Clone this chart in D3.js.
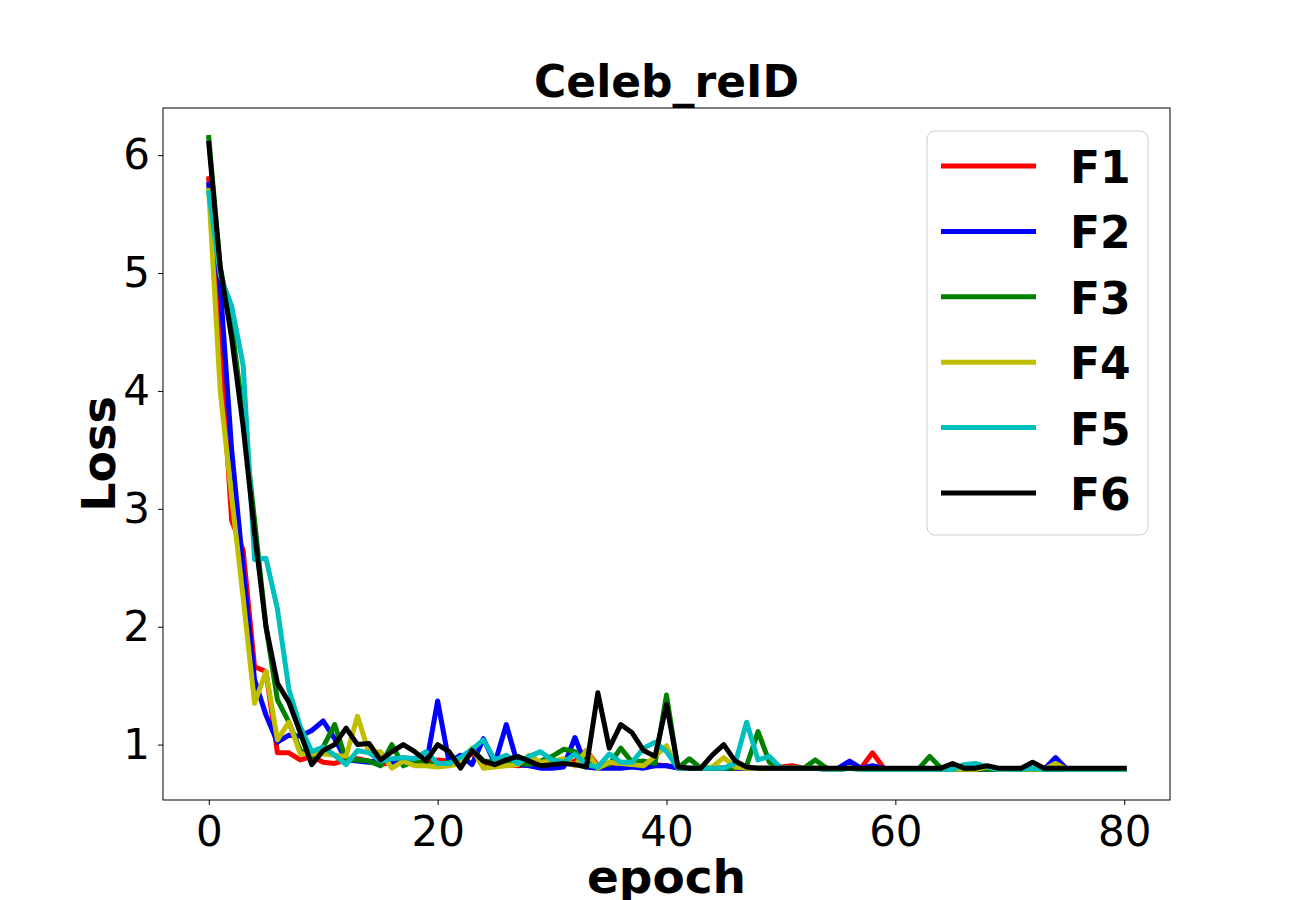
<!DOCTYPE html>
<html>
<head>
<meta charset="utf-8">
<script src="https://cdn.jsdelivr.net/npm/d3@7"></script>
<style>
  body { margin: 0; background: #fff; }
  svg { font-family: "DejaVu Sans", sans-serif; }
</style>
</head>
<body>
<svg id="chart" width="1300" height="900"></svg>
<script>
// loss per epoch (0..80)
var seriesNames = ["F1", "F2", "F3", "F4", "F5", "F6"];
var seriesColors = ["#ff0000", "#0000ff", "#008000", "#bfbf00", "#00bfbf", "#000000"];

var F1 = [5.8, 4.4, 2.9, 2.65, 1.66, 1.62, 0.93, 0.93, 0.87, 0.9,
  0.85, 0.84, 0.87, 0.88, 0.86, 0.83, 0.85, 0.86, 0.85, 0.84,
  0.87, 0.86, 0.83, 0.93, 0.84, 0.82, 0.83, 0.82, 0.83, 0.82,
  0.82, 0.83, 0.86, 0.95, 0.82, 0.83, 0.82, 0.83, 0.82, 0.83,
  0.82, 0.81, 0.8, 0.8, 0.8, 0.8, 0.8, 0.8, 0.8, 0.8,
  0.81, 0.82, 0.8, 0.8, 0.8, 0.79, 0.8, 0.8, 0.93, 0.8,
  0.79, 0.79, 0.79, 0.79, 0.79, 0.79, 0.79, 0.79, 0.79, 0.79,
  0.79, 0.79, 0.79, 0.79, 0.79, 0.79, 0.79, 0.79, 0.79, 0.79, 0.79];

var F2 = [5.75, 4.9, 3.5, 2.5, 1.55, 1.25, 1.02, 1.08, 1.07, 1.12,
  1.2, 1.05, 0.87, 0.86, 0.85, 0.87, 0.85, 0.85, 0.84, 0.83,
  1.37, 0.85, 0.91, 0.83, 1.05, 0.84, 1.17, 0.83, 0.82, 0.8,
  0.8, 0.81, 1.06, 0.81, 0.8, 0.8, 0.8, 0.81, 0.8, 0.82,
  0.82, 0.8, 0.8, 0.8, 0.8, 0.8, 0.8, 0.8, 0.8, 0.8,
  0.8, 0.8, 0.8, 0.8, 0.79, 0.8, 0.86, 0.8, 0.82, 0.8,
  0.79, 0.79, 0.79, 0.79, 0.79, 0.79, 0.79, 0.79, 0.79, 0.79,
  0.79, 0.79, 0.79, 0.79, 0.89, 0.79, 0.79, 0.79, 0.79, 0.79, 0.79];

var F3 = [6.15, 5.05, 4.55, 3.8, 2.9, 2.0, 1.38, 1.19, 0.95, 0.9,
  0.98, 1.17, 0.87, 0.87, 0.86, 0.82, 1.0, 0.82, 0.86, 0.84,
  0.83, 0.85, 0.84, 0.96, 0.86, 0.85, 0.85, 0.84, 0.83, 0.86,
  0.9, 0.96, 0.94, 0.85, 0.82, 0.83, 0.97, 0.85, 0.86, 0.84,
  1.42, 0.8, 0.88, 0.8, 0.8, 0.8, 0.8, 0.82, 1.11, 0.85,
  0.8, 0.8, 0.8, 0.87, 0.8, 0.79, 0.8, 0.79, 0.79, 0.79,
  0.79, 0.79, 0.79, 0.9, 0.8, 0.79, 0.79, 0.79, 0.79, 0.79,
  0.79, 0.79, 0.79, 0.79, 0.79, 0.79, 0.79, 0.79, 0.79, 0.79, 0.79];

var F4 = [5.7, 4.0, 3.1, 2.25, 1.35, 1.62, 1.04, 1.19, 0.92, 0.92,
  0.92, 0.91, 0.9, 1.24, 0.93, 0.94, 0.8, 0.86, 0.82, 0.82,
  0.81, 0.82, 0.84, 0.97, 0.8, 0.81, 0.82, 0.83, 0.91, 0.85,
  0.86, 0.88, 0.82, 0.95, 0.8, 0.85, 0.84, 0.83, 0.82, 0.9,
  0.99, 0.8, 0.8, 0.8, 0.81, 0.89, 0.81, 0.8, 0.8, 0.8,
  0.8, 0.8, 0.8, 0.8, 0.79, 0.79, 0.8, 0.79, 0.79, 0.79,
  0.79, 0.79, 0.79, 0.79, 0.79, 0.79, 0.79, 0.79, 0.81, 0.79,
  0.79, 0.79, 0.79, 0.79, 0.84, 0.79, 0.79, 0.79, 0.79, 0.79, 0.79];

var F5 = [5.68, 4.98, 4.72, 4.22, 2.57, 2.58, 2.15, 1.47, 1.15, 0.94,
  0.98, 0.91, 0.83, 0.95, 0.93, 0.86, 0.88, 0.89, 0.88, 0.94,
  0.84, 0.84, 0.89, 0.96, 1.04, 0.87, 0.91, 0.84, 0.9, 0.94,
  0.87, 0.85, 0.92, 0.83, 0.81, 0.92, 0.85, 0.85, 0.97, 1.02,
  0.94, 0.8, 0.8, 0.8, 0.8, 0.8, 0.84, 1.19, 0.87, 0.9,
  0.8, 0.8, 0.8, 0.8, 0.79, 0.79, 0.8, 0.79, 0.79, 0.79,
  0.79, 0.79, 0.79, 0.79, 0.79, 0.79, 0.83, 0.84, 0.81, 0.79,
  0.79, 0.79, 0.8, 0.79, 0.79, 0.79, 0.79, 0.79, 0.79, 0.79, 0.79];

var F6 = [6.1, 5.05, 4.45, 3.7, 2.8, 2.0, 1.52, 1.36, 1.1, 0.83,
  0.95, 1.0, 1.14, 1.0, 1.01, 0.87, 0.94, 1.0, 0.94, 0.86,
  1.0, 0.94, 0.8, 0.95, 0.86, 0.83, 0.87, 0.9, 0.86, 0.82,
  0.83, 0.84, 0.83, 0.81, 1.44, 0.97, 1.17, 1.1, 0.95, 0.9,
  1.34, 0.81, 0.8, 0.8, 0.91, 1.0, 0.86, 0.81, 0.8, 0.8,
  0.8, 0.8, 0.8, 0.8, 0.8, 0.8, 0.8, 0.8, 0.8, 0.8,
  0.8, 0.8, 0.8, 0.8, 0.8, 0.84, 0.8, 0.8, 0.82, 0.8,
  0.8, 0.8, 0.85, 0.8, 0.8, 0.8, 0.8, 0.8, 0.8, 0.8, 0.8];

var xTicks = [0, 20, 40, 60, 80];
var yTicks = [1, 2, 3, 4, 5, 6];

var allSeries = [F1, F2, F3, F4, F5, F6];

var svg = d3.select("#chart");
var plotLeft = 163, plotRight = 1170, plotTop = 108, plotBottom = 800;

var x = d3.scaleLinear().domain([-4, 84]).range([plotLeft, plotRight]);
var y = d3.scaleLinear().domain([0.53, 6.4]).range([plotBottom, plotTop]);

// title
svg.append("text")
    .attr("x", (plotLeft + plotRight) / 2)
    .attr("y", 97)
    .attr("text-anchor", "middle")
    .attr("font-size", 44)
    .attr("font-weight", "bold")
    .text("Celeb_reID");

// lines, clipped to the axes box
svg.append("clipPath").attr("id", "plot-clip")
    .append("rect")
    .attr("x", plotLeft).attr("y", plotTop)
    .attr("width", plotRight - plotLeft).attr("height", plotBottom - plotTop);

var line = d3.line()
    .x(function(d, i) { return x(i); })
    .y(function(d) { return y(d); });

svg.append("g")
    .attr("clip-path", "url(#plot-clip)")
    .selectAll("path")
    .data(allSeries)
    .enter().append("path")
    .attr("d", line)
    .attr("fill", "none")
    .attr("stroke", function(d, i) { return seriesColors[i]; })
    .attr("stroke-width", 5)
    .attr("stroke-linejoin", "round")
    .attr("stroke-linecap", "square");

// axes
var xAxis = svg.append("g")
    .attr("transform", "translate(0," + plotBottom + ")")
    .call(d3.axisBottom(x).tickValues(xTicks).tickFormat(d3.format("d")).tickSize(5).tickPadding(8));
var yAxis = svg.append("g")
    .attr("transform", "translate(" + plotLeft + ",0)")
    .call(d3.axisLeft(y).tickValues(yTicks).tickFormat(d3.format("d")).tickSize(5).tickPadding(8));

[xAxis, yAxis].forEach(function(ax) {
    ax.select(".domain").remove();
    ax.selectAll("line").attr("stroke", "#000").attr("stroke-width", 1);
    ax.selectAll("text")
        .attr("font-family", "DejaVu Sans, sans-serif")
        .attr("font-size", 42)
        .attr("fill", "#000");
});
xAxis.selectAll("text").attr("dy", "0.78em");

// frame
svg.append("rect")
    .attr("x", plotLeft).attr("y", plotTop)
    .attr("width", plotRight - plotLeft).attr("height", plotBottom - plotTop)
    .attr("fill", "none")
    .attr("stroke", "#000")
    .attr("stroke-width", 1);

// axis labels
svg.append("text")
    .attr("x", (plotLeft + plotRight) / 2)
    .attr("y", 893)
    .attr("text-anchor", "middle")
    .attr("font-size", 47)
    .attr("font-weight", "bold")
    .text("epoch");

svg.append("text")
    .attr("transform", "translate(115," + ((plotTop + plotBottom) / 2) + ") rotate(-90)")
    .attr("text-anchor", "middle")
    .attr("font-size", 46)
    .attr("font-weight", "bold")
    .text("Loss");

// legend
var legend = svg.append("g").attr("transform", "translate(927,131)");

legend.append("rect")
    .attr("width", 221)
    .attr("height", 404)
    .attr("rx", 8)
    .attr("fill", "#fff")
    .attr("fill-opacity", 0.8)
    .attr("stroke", "#cccccc")
    .attr("stroke-width", 1);

var item = legend.selectAll("g.item")
    .data(seriesNames)
    .enter().append("g")
    .attr("class", "item")
    .attr("transform", function(d, i) { return "translate(0," + (35 + i * 65.4) + ")"; });

item.append("line")
    .attr("x1", 14).attr("x2", 109)
    .attr("y1", 0).attr("y2", 0)
    .attr("stroke", function(d, i) { return seriesColors[i]; })
    .attr("stroke-width", 5);

item.append("text")
    .attr("x", 143)
    .attr("y", 17)
    .attr("font-size", 44)
    .attr("font-weight", "bold")
    .text(function(d) { return d; });
</script>
</body>
</html>
